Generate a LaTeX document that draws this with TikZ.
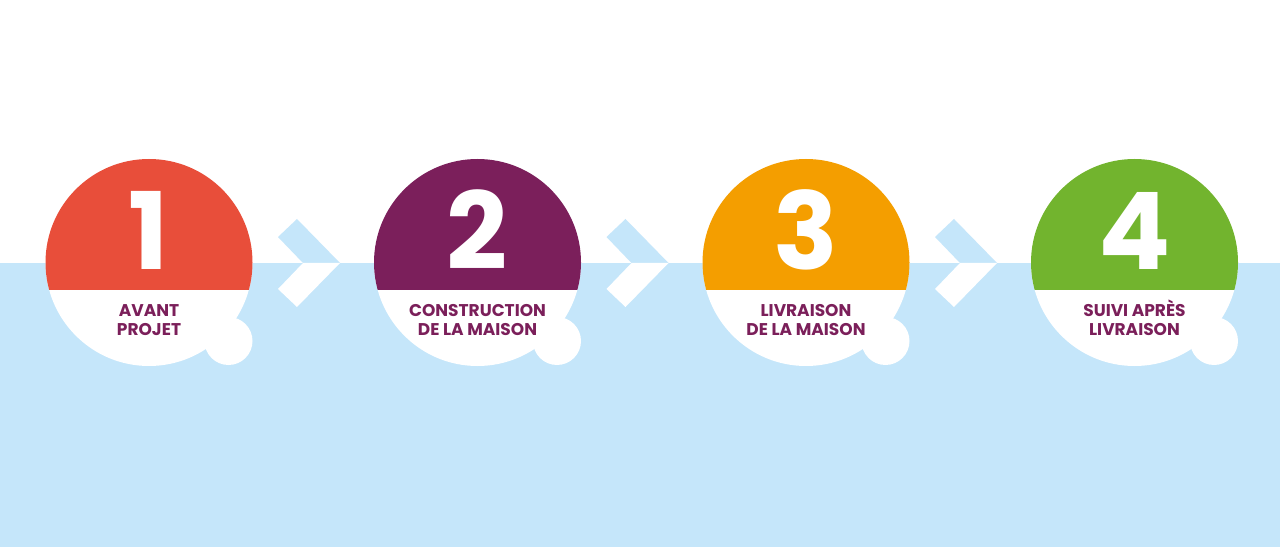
\documentclass[tikz,border=0pt]{standalone}
\usepackage{fontspec}
\setmainfont{Poppins}
\usetikzlibrary{positioning}
\definecolor{skyblue}{HTML}{C5E6FA}
\definecolor{stepred}{HTML}{E84E3A}
\definecolor{steppurple}{HTML}{7B1F5B}
\definecolor{steporange}{HTML}{F49E00}
\definecolor{stepgreen}{HTML}{72B42E}
\definecolor{labelpurple}{HTML}{7B1F5A}
\tikzset{
  stepdisc/.style={circle,fill=white,minimum size=207pt,inner sep=0pt},
  stepbubble/.style={circle,fill=white,minimum size=48pt,inner sep=0pt},
  stepnum/.style={text=white,font=\fontsize{107}{107}\selectfont\bfseries,anchor=base,inner sep=0pt},
  steplabel/.style={text=labelpurple,font=\fontsize{17}{19.5}\selectfont\bfseries,align=center,inner sep=0pt}
}
\begin{document}
\begin{tikzpicture}[x=1pt,y=1pt]
\useasboundingbox (0,0) rectangle (1280,547);
\fill[white] (0,0) rectangle (1280,547);
\fill[skyblue] (0,0) rectangle (1280,284);
% step 1
\node[stepbubble] (b1) at (228.5,206) {};
\node[stepdisc] (s1) at (149,284.5) {};
\begin{scope}
\clip (149,284.5) circle (103.5);
\fill[stepred] (0,257) rectangle (1280,400);
\end{scope}
\node[stepnum] (n1) at (149,277.5) {1};
\node[steplabel] (l1) at (149,227) {AVANT\\PROJET};
% step 2
\node[stepbubble] (b2) at (557,206) {};
\node[stepdisc] (s2) at (477.5,284.5) {};
\begin{scope}
\clip (477.5,284.5) circle (103.5);
\fill[steppurple] (0,257) rectangle (1280,400);
\end{scope}
\node[stepnum] (n2) at (477.5,277.5) {2};
\node[steplabel] (l2) at (477.5,227) {CONSTRUCTION\\DE LA MAISON};
% step 3
\node[stepbubble] (b3) at (885.5,206) {};
\node[stepdisc] (s3) at (806,284.5) {};
\begin{scope}
\clip (806,284.5) circle (103.5);
\fill[steporange] (0,257) rectangle (1280,400);
\end{scope}
\node[stepnum] (n3) at (806,277.5) {3};
\node[steplabel] (l3) at (806,227) {LIVRAISON\\DE LA MAISON};
% step 4
\node[stepbubble] (b4) at (1214,206) {};
\node[stepdisc] (s4) at (1134.5,284.5) {};
\begin{scope}
\clip (1134.5,284.5) circle (103.5);
\fill[stepgreen] (0,257) rectangle (1280,400);
\end{scope}
\node[stepnum] (n4) at (1134.5,277.5) {4};
\node[steplabel] (l4) at (1134.5,229) {SUIVI APRÈS\\LIVRAISON};
% chevrons
\fill[skyblue] (297,328) -- (340,284) -- (303,284) -- (278,310) -- cycle;
\fill[white] (303,284) -- (340,284) -- (297,240) -- (278,258) -- cycle;
\fill[skyblue] (625.5,328) -- (668.5,284) -- (631.5,284) -- (606.5,310) -- cycle;
\fill[white] (631.5,284) -- (668.5,284) -- (625.5,240) -- (606.5,258) -- cycle;
\fill[skyblue] (954,328) -- (997,284) -- (960,284) -- (935,310) -- cycle;
\fill[white] (960,284) -- (997,284) -- (954,240) -- (935,258) -- cycle;
\end{tikzpicture}
\end{document}
